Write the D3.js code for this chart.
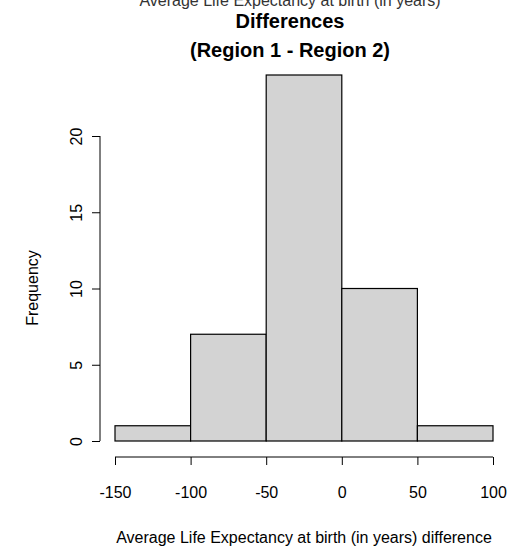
<!DOCTYPE html><html><head><meta charset="utf-8"><script src="https://cdn.jsdelivr.net/npm/d3@7"></script>
<style>body{margin:0;background:#fff}text{font-family:"Liberation Sans",Arial,sans-serif}</style></head><body>
<svg id="c" width="517" height="549"></svg>
<script>
const binStarts=[-150,-100,-50,0,50];
const binWidth=50;
const counts=[1,7,24,10,1];
const xTicks=[-150,-100,-50,0,50,100];
const yTicks=[0,5,10,15,20];
const svg=d3.select("#c");
const x=d3.scaleLinear().domain([-150,100]).range([115,493]);
const y=d3.scaleLinear().domain([0,20]).range([441,136]);
svg.selectAll("rect").data(counts).join("rect")
 .attr("x",(d,i)=>x(binStarts[i])).attr("width",(d,i)=>x(binStarts[i]+binWidth)-x(binStarts[i]))
 .attr("y",d=>y(d)).attr("height",d=>y(0)-y(d))
 .attr("fill","#d3d3d3").attr("stroke","#000").attr("stroke-width",1.2);
const xa=svg.append("g").attr("transform","translate(0,457)").call(d3.axisBottom(x).tickValues(xTicks).tickFormat(d=>String(d)).tickSize(8).tickPadding(22));
const ya=svg.append("g").attr("transform","translate(100,0)").call(d3.axisLeft(y).tickValues(yTicks).tickFormat(d=>String(d)).tickSize(8).tickPadding(8));
[xa,ya].forEach(a=>{a.selectAll("text").attr("font-size",16).attr("fill","#000").style("font-family","Liberation Sans, Arial");});
xa.select(".domain").attr("stroke","#000").attr("d","M"+x(-150)+",0H"+x(100));
ya.select(".domain").attr("stroke","#000").attr("d","M0,"+y(0)+"V"+y(20));
ya.selectAll(".tick text").attr("transform","rotate(-90)").attr("text-anchor","middle").attr("x",0).attr("dy",0).attr("y",-18);
svg.append("text").attr("x",290).attr("y",6).attr("text-anchor","middle").attr("font-size",16).attr("fill","#333").text("Average Life Expectancy at birth (in years)");
svg.append("text").attr("x",290).attr("y",28).attr("text-anchor","middle").attr("font-size",20).attr("font-weight","bold").text("Differences");
svg.append("text").attr("x",290).attr("y",57).attr("text-anchor","middle").attr("font-size",20).attr("font-weight","bold").text("(Region 1 - Region 2)");
svg.append("text").attr("x",304).attr("y",543).attr("text-anchor","middle").attr("font-size",16).text("Average Life Expectancy at birth (in years) difference");
svg.append("text").attr("transform","translate(38,288) rotate(-90)").attr("text-anchor","middle").attr("font-size",16).text("Frequency");
</script></body></html>
